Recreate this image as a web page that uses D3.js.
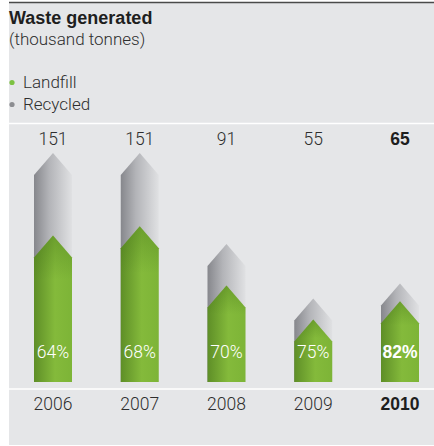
<!DOCTYPE html>
<html>
<head>
<meta charset="utf-8">
<script src="https://cdn.jsdelivr.net/npm/d3@7"></script>
<style>
  html, body { margin: 0; padding: 0; background: #ffffff; }
  svg { display: block; font-family: Roboto, "Liberation Sans", Arial, sans-serif; }
</style>
</head>
<body>
<svg id="chart" width="434" height="446"></svg>
<script>
// Waste generated per year, thousand tonnes, with the landfill share
const years = ["2006", "2007", "2008", "2009", "2010"];
const totals = [151, 151, 91, 55, 65];
const landfillShare = [64, 68, 70, 75, 82];
const highlightYear = "2010";

const svg = d3.select("#chart");
const W = 434, H = 446;
const panelLeft = 9;

// Panel background and rules
svg.append("rect").attr("x", panelLeft).attr("y", 2).attr("width", W - panelLeft).attr("height", 443)
  .attr("fill", "#e5e6e8");
svg.append("line").attr("x1", panelLeft).attr("x2", W).attr("y1", 2.5).attr("y2", 2.5)
  .attr("stroke", "#4a4a4a").attr("stroke-width", 1.6);
[123.5, 389].forEach(y => {
  svg.append("line").attr("x1", panelLeft).attr("x2", W).attr("y1", y).attr("y2", y)
    .attr("stroke", "#ffffff").attr("stroke-width", 1.6);
});

// Gradients
const defs = svg.append("defs");
const gGrey = defs.append("linearGradient").attr("id", "greyGrad").attr("x1", "0").attr("x2", "1").attr("y1", "0").attr("y2", "0");
gGrey.append("stop").attr("offset", "0%").attr("stop-color", "#86878c");
gGrey.append("stop").attr("offset", "40%").attr("stop-color", "#b3b4b8");
gGrey.append("stop").attr("offset", "100%").attr("stop-color", "#e0e1e3");
const gGreen = defs.append("linearGradient").attr("id", "greenGrad").attr("x1", "0").attr("x2", "1").attr("y1", "0").attr("y2", "0");
gGreen.append("stop").attr("offset", "0%").attr("stop-color", "#5e8e27");
gGreen.append("stop").attr("offset", "55%").attr("stop-color", "#84ba3b");
gGreen.append("stop").attr("offset", "100%").attr("stop-color", "#7db437");
const gShade = defs.append("linearGradient").attr("id", "greenShade").attr("x1", "0").attr("x2", "0").attr("y1", "0").attr("y2", "1");
gShade.append("stop").attr("offset", "0%").attr("stop-color", "#3f6e14").attr("stop-opacity", 0.35);
gShade.append("stop").attr("offset", "30%").attr("stop-color", "#3f6e14").attr("stop-opacity", 0);
gShade.append("stop").attr("offset", "100%").attr("stop-color", "#3f6e14").attr("stop-opacity", 0);

// Title and legend
svg.append("text").attr("x", panelLeft).attr("y", 24).attr("font-size", 18).attr("font-weight", "bold")
  .attr("font-family", "'Liberation Sans', Arial, sans-serif")
  .attr("fill", "#1e1e1e").text("Waste generated");
svg.append("text").attr("x", panelLeft).attr("y", 45).attr("font-size", 17).attr("font-weight", 300)
  .attr("fill", "#2e2e2e").text("(thousand tonnes)");
const legend = [{ label: "Landfill", color: "#7dc242" }, { label: "Recycled", color: "#8c8d91" }];
legend.forEach((d, i) => {
  const y = 88 + i * 22;
  svg.append("circle").attr("cx", 12).attr("cy", y - 5.5).attr("r", 2.6).attr("fill", d.color);
  svg.append("text").attr("x", 23).attr("y", y).attr("font-size", 17).attr("font-weight", 300)
    .attr("fill", "#2e2e2e").text(d.label);
});

// Scales
const x = d3.scalePoint().domain(years).range([53, 400]);
const y = d3.scaleLinear().domain([0, 151]).range([382, 153]);
const halfW = 19, tipH = 22;

function arrowPath(cx, value) {
  const base = y(0), tip = y(value);
  const shoulder = Math.min(tip + tipH, base);
  return `M${cx - halfW},${base} L${cx - halfW},${shoulder} L${cx},${tip} L${cx + halfW},${shoulder} L${cx + halfW},${base} Z`;
}

const data = years.map((yr, i) => ({
  year: yr, total: totals[i], share: landfillShare[i],
  landfill: totals[i] * landfillShare[i] / 100
}));

const bars = svg.append("g").selectAll("g").data(data).join("g");
bars.append("path").attr("d", d => arrowPath(x(d.year), d.total)).attr("fill", "url(#greyGrad)");
bars.append("path").attr("d", d => arrowPath(x(d.year), d.landfill)).attr("fill", "url(#greenGrad)");
bars.append("path").attr("d", d => arrowPath(x(d.year), d.landfill)).attr("fill", "url(#greenShade)");

// Value, share and year labels
const isHi = d => d.year === highlightYear;
const weight = d => isHi(d) ? 700 : 300;
const family = d => isHi(d) ? "'Liberation Sans', Arial, sans-serif" : "Roboto, sans-serif";
bars.append("text").attr("x", d => x(d.year)).attr("y", 145).attr("text-anchor", "middle")
  .attr("font-size", 17.5).attr("font-weight", weight).attr("font-family", family)
  .attr("fill", d => isHi(d) ? "#1e1e1e" : "#2e2e2e")
  .text(d => d.total);
bars.append("text").attr("x", d => x(d.year)).attr("y", 357.5).attr("text-anchor", "middle")
  .attr("font-size", 17.5).attr("font-weight", weight).attr("font-family", family).attr("fill", "#ffffff")
  .text(d => d.share + "%");
bars.append("text").attr("x", d => x(d.year)).attr("y", 410).attr("text-anchor", "middle")
  .attr("font-size", 17.5).attr("font-weight", weight).attr("font-family", family)
  .attr("fill", d => isHi(d) ? "#1e1e1e" : "#2e2e2e")
  .text(d => d.year);
</script>
</body>
</html>
